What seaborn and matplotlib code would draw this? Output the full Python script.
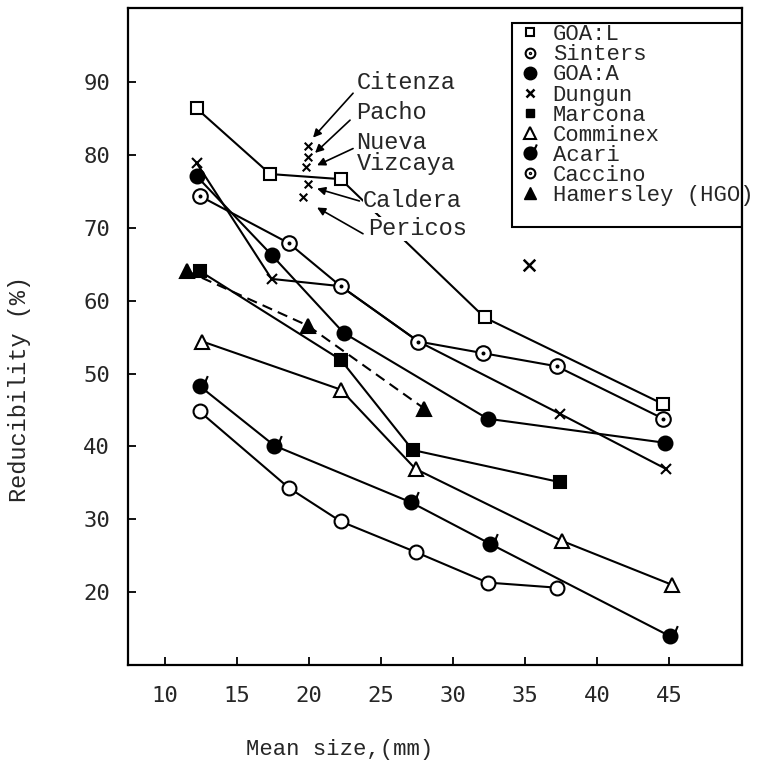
import numpy as np
import pandas as pd
import matplotlib
matplotlib.use("Agg")
import matplotlib.pyplot as plt
import seaborn as sns
from matplotlib.path import Path
from matplotlib.lines import Line2D
from matplotlib.patches import Rectangle

# ---- data ----
goal_x = [12.2, 17.3, 22.2, 32.2, 44.6]
goal_y = [86.4, 77.4, 76.7, 57.7, 45.8]

sinters_x = [12.4, 18.6, 22.2, 27.6, 32.1, 37.2, 44.6]
sinters_y = [74.4, 67.9, 62.0, 54.4, 52.8, 51.0, 43.8]

goaa_x = [12.2, 17.4, 22.4, 32.4, 44.7]
goaa_y = [77.1, 66.3, 55.6, 43.8, 40.5]

dungun_x = [12.2, 17.4, 22.2, 27.6, 37.4, 44.8]
dungun_y = [78.9, 63.0, 62.0, 54.4, 44.5, 36.9]

marcona_x = [12.4, 22.2, 27.2, 37.4]
marcona_y = [64.1, 51.9, 39.5, 35.1]

comminex_x = [12.6, 22.2, 27.4, 37.6, 45.2]
comminex_y = [54.4, 47.8, 36.9, 27.0, 21.0]

acari_x = [12.4, 17.6, 27.1, 32.6, 45.1]
acari_y = [48.3, 40.1, 32.3, 26.6, 13.9]

caccino_x = [12.4, 18.6, 22.2, 27.4, 32.4, 37.2]
caccino_y = [44.8, 34.3, 29.7, 25.5, 21.3, 20.6]

hamersley_x = [11.5, 19.9, 28.0]
hamersley_y = [64.1, 56.6, 45.2]

extra_x = [35.3]
extra_y = [64.9]

# single ores marked with arrows
ore_names = ["Citenza", "Pacho", "Nueva\nVizcaya", "Caldera", "Pericos"]
ore_x = [19.9, 19.9, 19.8, 19.9, 19.6]
ore_y = [81.3, 79.7, 78.3, 76.1, 74.3]
label_pos = [(23.3, 90.0), (23.3, 85.9), (23.3, 80.3), (23.75, 73.7), (24.1, 69.9)]
arrow_tail = [(23.06, 88.5), (22.85, 84.8), (23.06, 80.9), (23.5, 73.7), (23.75, 69.2)]
arrow_head = [(20.28, 82.4), (20.42, 80.3), (20.56, 78.6), (20.56, 75.4), (20.56, 72.8)]

legend_names = ["GOA:L", "Sinters", "GOA:A", "Dungun", "Marcona", "Comminex",
                "Acari", "Caccino", "Hamersley (HGO)"]

# ---- custom markers ----
circ = Path.unit_circle()
circle_dot = Path.make_compound_path(circ, Path.circle((0, 0), 0.13))
prime = Path([(0.72, 0.72), (1.05, 1.5)], [Path.MOVETO, Path.LINETO])
circle_prime = Path.make_compound_path(circ, prime)

sns.set_style("ticks")
plt.rcParams["font.family"] = ["Liberation Mono", "DejaVu Sans Mono"]

fig = plt.figure(figsize=(7.76, 7.68), dpi=100)
ax = fig.add_axes([128 / 776, 1 - 665 / 768, (742 - 128) / 776, (665 - 8) / 768])


def draw(x, y, **kw):
    sns.lineplot(x=x, y=y, ax=ax, color="black", lw=1.5, sort=False,
                 mec="black", mew=1.5, **kw)


draw(dungun_x, dungun_y, marker="x", ms=7)
draw(goal_x, goal_y, marker="s", ms=9, mfc="white")
draw(goaa_x, goaa_y, marker="o", ms=10, mfc="black")
draw(marcona_x, marcona_y, marker="s", ms=8.5, mfc="black")
draw(hamersley_x, hamersley_y, marker="^", ms=10, mfc="black",
     linestyle=(0, (5, 3)))
draw(comminex_x, comminex_y, marker="^", ms=10, mfc="white")
draw(acari_x, acari_y, marker=circle_prime, ms=15, mfc="black")
draw(caccino_x, caccino_y, marker="o", ms=10, mfc="white")
draw(sinters_x, sinters_y, marker=circle_dot, ms=10.5, mfc="white")

sns.scatterplot(x=extra_x, y=extra_y, ax=ax, marker="x", color="black",
                s=70, linewidth=1.8)
sns.scatterplot(x=ore_x, y=ore_y, ax=ax, marker="x", color="black",
                s=30, linewidth=1.5)

for name, (tx, ty), tail, head in zip(ore_names, label_pos, arrow_tail, arrow_head):
    ax.text(tx, ty, name, fontsize=17, ha="left", va="center", linespacing=0.85,
            bbox=dict(fc="white", ec="none", pad=0.3), zorder=4)
    ax.annotate("", xy=head, xytext=tail,
                arrowprops=dict(arrowstyle="-|>", color="black", lw=1.2,
                                mutation_scale=12, shrinkA=0, shrinkB=0),
                zorder=5)

# ---- legend ----
handles = [
    Line2D([], [], ls="none", marker="s", ms=6, mfc="white", mec="black", mew=1.5),
    Line2D([], [], ls="none", marker=circle_dot, ms=7, mfc="white", mec="black", mew=1.5),
    Line2D([], [], ls="none", marker="o", ms=9, mfc="black", mec="black"),
    Line2D([], [], ls="none", marker="x", ms=6, mec="black", mew=1.8),
    Line2D([], [], ls="none", marker="s", ms=6, mfc="black", mec="black"),
    Line2D([], [], ls="none", marker="^", ms=8, mfc="white", mec="black", mew=1.5),
    Line2D([], [], ls="none", marker=circle_prime, ms=13, mfc="black", mec="black", mew=1.5),
    Line2D([], [], ls="none", marker=circle_dot, ms=7, mfc="white", mec="black", mew=1.5),
    Line2D([], [], ls="none", marker="^", ms=9, mfc="black", mec="black"),
]
leg = ax.legend(handles, legend_names, loc="upper left", bbox_to_anchor=(0.632, 0.982),
                frameon=False, fontsize=16, labelspacing=-0.04, handlelength=0.9,
                handletextpad=0.55, borderpad=0.2, borderaxespad=0)
leg.set_zorder(6)
ax.add_patch(Rectangle((0.625, 0.667), 0.375, 0.31, transform=ax.transAxes,
                       fill=False, ec="black", lw=1.5, zorder=6))

ax.set_xlim(7.43, 50.07)
ax.set_ylim(9.98, 100.2)
ax.set_xticks([10, 15, 20, 25, 30, 35, 40, 45])
ax.set_yticks([20, 30, 40, 50, 60, 70, 80, 90])
ax.tick_params(direction="in", length=6, width=1.3, labelsize=16, color="black")
ax.tick_params(axis="y", pad=13)
ax.tick_params(axis="x", pad=15)
for lab in ax.get_xticklabels() + ax.get_yticklabels():
    lab.set_family("DejaVu Sans Mono")
for sp in ax.spines.values():
    sp.set_linewidth(1.6)
    sp.set_color("black")

ax.set_xlabel("Mean size,(mm)", fontsize=16)
ax.set_ylabel("Reducibility (%)", fontsize=17)
ax.xaxis.set_label_coords(0.345, -0.113)
ax.yaxis.set_label_coords(-0.158, 0.42)

fig.savefig("out.png", dpi=100)
